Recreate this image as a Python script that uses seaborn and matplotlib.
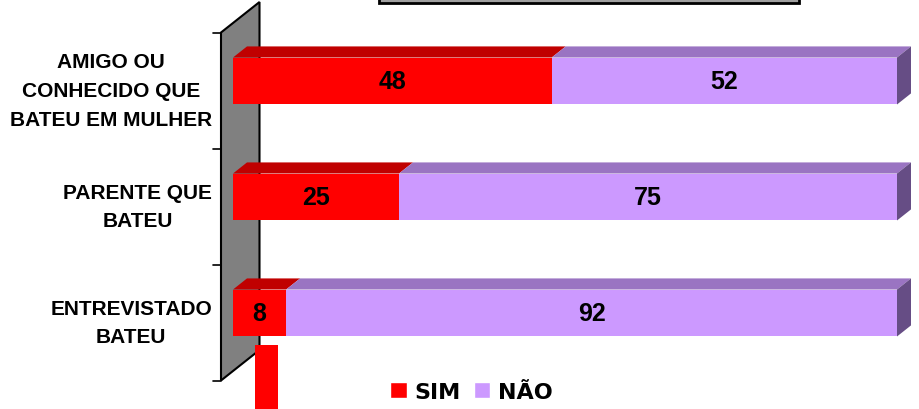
import matplotlib
matplotlib.use("Agg")
import matplotlib.pyplot as plt
import matplotlib.transforms as mtransforms
from matplotlib.patches import Polygon, Rectangle, Patch
import seaborn as sns

# --- Data ---
categories = ["AMIGO OU\nCONHECIDO QUE\nBATEU EM MULHER", "PARENTE QUE\nBATEU", "ENTREVISTADO\nBATEU"]
sim = [48, 25, 8]
nao = [52, 75, 92]
series_names = ["SIM", "NÃO"]

# --- Colours ---
RED, RED_TOP = "#FF0000", "#C00000"
LAV, LAV_TOP, LAV_SIDE = "#CC99FF", "#9A74C2", "#664D85"
WALL = "#808080"

W, H = 920, 410
sns.set_style("white")
plt.rcParams["font.family"] = ["Liberation Sans", "DejaVu Sans"]
plt.rcParams["text.color"] = "black"

fig = plt.figure(figsize=(W / 100, H / 100), dpi=100)
ax = fig.add_axes([233 / W, 1 - 372 / H, 664 / W, 348 / H])

totals = [s + n for s, n in zip(sim, nao)]
sns.barplot(x=totals, y=categories, orient="h", color=LAV, saturation=1,
            width=0.405, linewidth=0, ax=ax)
sns.barplot(x=sim, y=categories, orient="h", color=RED, saturation=1,
            width=0.405, linewidth=0, ax=ax)
ax.set_xlim(0, 100)
ax.set_ylim(2.5, -0.5)
ax.axis("off")

ID = mtransforms.IdentityTransform()


def px(x, y_top):
    # pixel position measured from the top-left corner -> display coords
    return (x, H - y_top)


def add_poly(pts, color, z, ec="none", lw=0):
    ax.add_patch(Polygon(pts, closed=True, facecolor=color, edgecolor=ec,
                         linewidth=lw, transform=ID, clip_on=False, zorder=z))


# depth of the whole floor and of the bars (pixels)
DX, DY = 38.5, 30.5
BAR_OFF = 12 / 38.5
BAR_DEPTH = 14 / 38.5

# origin of front plane relative to bar plane
fx0, fy0 = ax.transData.transform((0, -0.5))
wall_x = fx0 - BAR_OFF * DX
top_y = fy0 - BAR_OFF * DY
bot_y = ax.transData.transform((0, 2.5))[1] - BAR_OFF * DY

# grey wall
add_poly([(wall_x, top_y), (wall_x + DX, top_y + DY), (wall_x + DX, bot_y + DY),
          (wall_x, bot_y)], WALL, 0.5, ec="black", lw=1.5)
for k in range(len(categories) + 1):
    yy = ax.transData.transform((0, k - 0.5))[1] - BAR_OFF * DY
    ax.add_line(plt.Line2D([wall_x - 8, wall_x], [yy, yy], color="black", lw=1.2,
                           transform=ID, clip_on=False, zorder=0.6))

# 3D faces of bars
bdx, bdy = BAR_DEPTH * DX, BAR_DEPTH * DY
n = len(categories)
for i in range(n):
    x0, yb = ax.transData.transform((0, i + 0.2025))
    xs, yt = ax.transData.transform((sim[i], i - 0.2025))
    x1, _ = ax.transData.transform((totals[i], i))
    add_poly([(x0, yt), (xs, yt), (xs + bdx, yt + bdy), (x0 + bdx, yt + bdy)], RED_TOP, 2)
    add_poly([(xs, yt), (x1, yt), (x1 + bdx, yt + bdy), (xs + bdx, yt + bdy)], LAV_TOP, 2)
    add_poly([(x1, yt), (x1 + bdx, yt + bdy), (x1 + bdx, yb + bdy), (x1, yb)], LAV_SIDE, 2)

    ax.text(sim[i] / 2, i, str(sim[i]), ha="center", va="center",
            fontsize=18, fontweight="bold", color="black", zorder=5)
    ax.text(sim[i] + nao[i] / 2, i, str(nao[i]), ha="center", va="center",
            fontsize=18, fontweight="bold", color="black", zorder=5)

    cy = ax.transData.transform((0, i))[1] - BAR_OFF * DY
    ax.text(212, cy, categories[i], transform=ID, ha="right", va="center",
            multialignment="center", fontsize=15, fontweight="bold",
            color="black", linespacing=1.65, clip_on=False)

# stray red block below the wall and cut-off title box
ax.add_patch(Rectangle(px(255, 410), 23, 64, facecolor=RED, edgecolor="none",
                       transform=ID, clip_on=False, zorder=3))
ax.add_patch(Rectangle(px(379, 4), 420, 30, facecolor="#A0A0A0", edgecolor="black",
                       linewidth=2, transform=ID, clip_on=False, zorder=3))

handles = [Patch(facecolor=RED), Patch(facecolor=LAV)]
fig.legend(handles, series_names, loc="center", bbox_to_anchor=(471.5 / W, 1 - 393 / H),
           ncol=2, frameon=False, labelcolor="black",
           prop=dict(family="DejaVu Sans", weight="bold", size=16),
           handlelength=0.73, handleheight=0.73, handletextpad=0.35,
           columnspacing=0.6, borderpad=0, borderaxespad=0)

fig.savefig("out.png", dpi=100)
